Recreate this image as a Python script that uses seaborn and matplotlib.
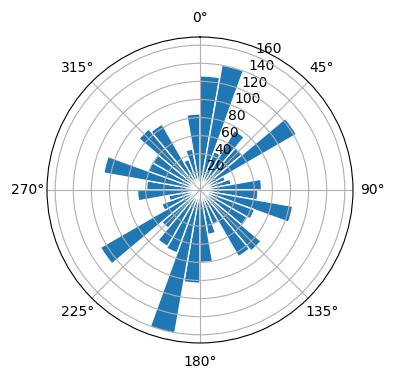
import numpy as np
import pandas as pd
import matplotlib
matplotlib.use("Agg")
import matplotlib.pyplot as plt
import seaborn as sns

# Direction bins (degrees, left edge of each 10-degree sector)
bin_start_deg = [0, 10, 20, 30, 40, 50, 60, 70, 80, 90, 100, 110,
                 120, 130, 140, 150, 160, 170, 180, 190, 200, 210, 220, 230,
                 240, 250, 260, 270, 280, 290, 300, 310, 320, 330, 340, 350]
counts = [126, 140, 45, 76, 61, 123, 30, 35, 68, 64, 104, 64,
          60, 88, 85, 40, 50, 80, 103, 161, 74, 72, 55, 127,
          45, 35, 69, 59, 108, 61, 60, 88, 84, 36, 46, 84]
theta_labels = ["0°", "45°", "90°", "135°", "180°", "225°", "270°", "315°"]

bin_width_deg = 10
df = pd.DataFrame({
    "theta": np.deg2rad(np.array(bin_start_deg) + bin_width_deg / 2),
    "count": counts,
})

fig = plt.figure(figsize=(3.96, 3.80), dpi=100)
ax = fig.add_axes([0.1187, 0.0974, 0.7727, 0.8053], projection="polar")
ax.set_theta_zero_location("N")
ax.set_theta_direction(-1)

sns.barplot(data=df, x="theta", y="count", native_scale=True, width=1.0,
            color="#1f77b4", saturation=1, edgecolor="white", linewidth=1,
            errorbar=None, ax=ax)

ax.set_xlabel("")
ax.set_ylabel("")
ax.set_xticks(np.deg2rad(np.arange(0, 360, 45)))
ax.set_xticklabels(theta_labels)
ax.set_rlim(0, max(counts) * 1.05)
ax.set_rticks([20, 40, 60, 80, 100, 120, 140, 160])
ax.set_rlabel_position(22.5)
ax.grid(True)

fig.savefig("out.png", dpi=100)
